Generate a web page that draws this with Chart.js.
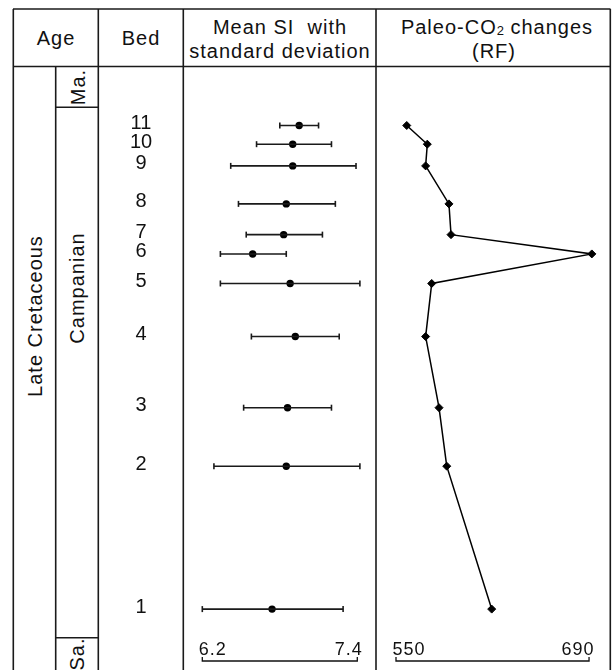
<!DOCTYPE html>
<html><head><meta charset="utf-8">
<script src="https://cdn.jsdelivr.net/npm/chart.js@4.4.1/dist/chart.umd.min.js"></script>
<style>
html,body{margin:0;padding:0;background:#fff;}
#wrap{position:relative;width:612px;height:670px;overflow:hidden;background:#fff;font-family:'Liberation Sans',Arial,sans-serif;color:#111;}
.t{position:absolute;white-space:nowrap;font-size:20px;letter-spacing:1px;line-height:1;transform:translate(-50%,-50%);}
.r{transform:translate(-50%,-50%) rotate(-90deg);}
canvas{position:absolute;}
svg{position:absolute;left:0;top:0;}
sub{font-size:13px;vertical-align:-1px;letter-spacing:0;line-height:0;}
</style></head>
<body><div id="wrap">
<svg width="612" height="670" xmlns="http://www.w3.org/2000/svg">
<g stroke="#1a1a1a" stroke-width="1.6" fill="none">
<line x1="13" y1="9" x2="610.5" y2="9"/>
<line x1="13" y1="66.5" x2="610.5" y2="66.5"/>
<line x1="13.3" y1="9" x2="13.3" y2="670"/>
<line x1="98.3" y1="9" x2="98.3" y2="670"/>
<line x1="183.3" y1="9" x2="183.3" y2="670"/>
<line x1="376" y1="9" x2="376" y2="670"/>
<line x1="610.3" y1="9" x2="610.3" y2="670"/>
<line x1="55.7" y1="66.5" x2="55.7" y2="670"/>
<line x1="55.7" y1="107.2" x2="98.3" y2="107.2"/>
<line x1="55.7" y1="637.7" x2="98.3" y2="637.7"/>
</g>
</svg>
<canvas id="si" width="278" height="603" style="left:98px;top:67px"></canvas>
<canvas id="co2" width="234" height="603" style="left:376px;top:67px"></canvas>
<div class="t" style="left:56px;top:37.5px">Age</div>
<div class="t" style="left:141px;top:37.5px">Bed</div>
<div class="t" style="left:280px;top:27.3px">Mean SI&nbsp; with</div>
<div class="t" style="left:280px;top:51px">standard deviation</div>
<div class="t" style="left:497px;top:27.3px">Paleo-CO<sub>2</sub> changes</div>
<div class="t" style="left:494px;top:51px">(RF)</div>
<div class="t r" style="left:35px;top:316px">Late Cretaceous</div>
<div class="t r" style="left:77px;top:288px">Campanian</div>
<div class="t r" style="left:77.5px;top:86.7px">Ma.</div>
<div class="t r" style="left:77px;top:654px">Sa.</div>
</div>
<script>
// ---- data ----
const beds     = ['1','2','3','4','5','6','7','8','9','10','11'];
const bedLevel = [10.1, 33.8, 43.5, 55.3, 64.1, 69.0, 72.2, 77.3, 83.6, 87.2, 90.3]; // relative stratigraphic height
const siMean   = [6.74, 6.85, 6.86, 6.92, 6.88, 6.59, 6.83, 6.85, 6.90, 6.90, 6.95];
const siLow    = [6.20, 6.29, 6.52, 6.58, 6.34, 6.34, 6.54, 6.48, 6.42, 6.62, 6.80];
const siHigh   = [7.29, 7.42, 7.20, 7.26, 7.42, 6.85, 7.13, 7.23, 7.39, 7.20, 7.10];
const co2      = [619.4, 586.8, 581.2, 571.5, 575.9, 692.0, 589.9, 588.4, 571.5, 572.7, 557.8];
const siTicks  = [6.2, 7.4];
const co2Ticks = [550, 690];

const FONT = '"Liberation Sans", Arial, sans-serif';
Chart.defaults.font.family = FONT;

const bracketPlugin = {
  id: 'bracket',
  afterDraw(chart, args, opts) {
    const {ctx} = chart;
    const x = chart.scales.x;
    const xa = x.getPixelForValue(opts.ticks[0]);
    const xb = x.getPixelForValue(opts.ticks[1]);
    const yb = chart.height - 9;
    ctx.save();
    ctx.strokeStyle = '#111';
    ctx.lineWidth = 1.3;
    ctx.beginPath();
    ctx.moveTo(xa, yb - 4); ctx.lineTo(xa, yb); ctx.lineTo(xb, yb); ctx.lineTo(xb, yb - 4);
    ctx.stroke();
    ctx.font = '18px ' + FONT;
    ctx.fillStyle = '#111';
    try { ctx.letterSpacing = '1px'; } catch (e) {}
    ctx.textBaseline = 'alphabetic';
    ctx.textAlign = 'left';
    ctx.fillText(opts.labels[0], xa - 3.5, yb - 5.7);
    ctx.textAlign = 'right';
    ctx.fillText(opts.labels[1], xb + 5.5, yb - 5.7);
    ctx.restore();
  }
};

const bedLabelPlugin = {
  id: 'bedLabels',
  afterDraw(chart, args, opts) {
    if (!opts.show) return;
    const {ctx} = chart;
    const y = chart.scales.y;
    ctx.save();
    ctx.font = '20px ' + FONT;
    ctx.fillStyle = '#111';
    ctx.textAlign = 'center';
    ctx.textBaseline = 'alphabetic';
    beds.forEach((b, i) => {
      ctx.fillText(b, 43, y.getPixelForValue(bedLevel[i]) + 3.5);
    });
    ctx.restore();
  }
};

// error bar segments separated by gaps
const errData = [];
beds.forEach((b, i) => {
  errData.push({x: siLow[i], y: bedLevel[i]});
  errData.push({x: siHigh[i], y: bedLevel[i]});
  errData.push({x: null, y: null});
});
const meanData = beds.map((b, i) => ({x: siMean[i], y: bedLevel[i]}));
const co2Data  = beds.map((b, i) => ({x: co2[i], y: bedLevel[i]}));

const common = (xmin, xmax) => ({
  responsive: false,
  animation: false,
  events: [],
  scales: {
    x: {type: 'linear', min: xmin, max: xmax, display: false},
    y: {type: 'linear', min: 0, max: 100, display: false}
  }
});

const optSI = common(6.0506, 7.5447);
optSI.layout = {autoPadding: false, padding: {left: 85, right: 0, top: 0, bottom: 0}};
optSI.plugins = {
  legend: {display: false}, tooltip: {enabled: false},
  bracket: {ticks: siTicks, labels: siTicks.map(v => v.toFixed(1))},
  bedLabels: {show: true}
};

new Chart(document.getElementById('si'), {
  type: 'scatter',
  data: {
    datasets: [
      {
        data: errData, showLine: true, spanGaps: false,
        borderColor: '#1a1a1a', borderWidth: 1.6,
        pointStyle: 'line', pointRotation: 90, pointRadius: 3,
        pointBorderColor: '#1a1a1a', pointBorderWidth: 1.6
      },
      {
        data: meanData, showLine: false,
        pointStyle: 'circle', pointRadius: 3.7,
        pointBackgroundColor: '#000', pointBorderColor: '#000', pointBorderWidth: 0
      }
    ]
  },
  options: optSI,
  plugins: [bracketPlugin, bedLabelPlugin]
});

const optCO2 = common(535.5, 705.2);
optCO2.layout = {autoPadding: false, padding: 0};
optCO2.plugins = {
  legend: {display: false}, tooltip: {enabled: false},
  bracket: {ticks: co2Ticks, labels: co2Ticks.map(v => String(v))},
  bedLabels: {show: false}
};

new Chart(document.getElementById('co2'), {
  type: 'scatter',
  data: {
    datasets: [{
      data: co2Data, showLine: true,
      borderColor: '#000', borderWidth: 1.5,
      pointStyle: 'rectRot', pointRadius: 4,
      pointBackgroundColor: '#000', pointBorderColor: '#000', pointBorderWidth: 1
    }]
  },
  options: optCO2,
  plugins: [bracketPlugin, bedLabelPlugin]
});
</script>
</body></html>
